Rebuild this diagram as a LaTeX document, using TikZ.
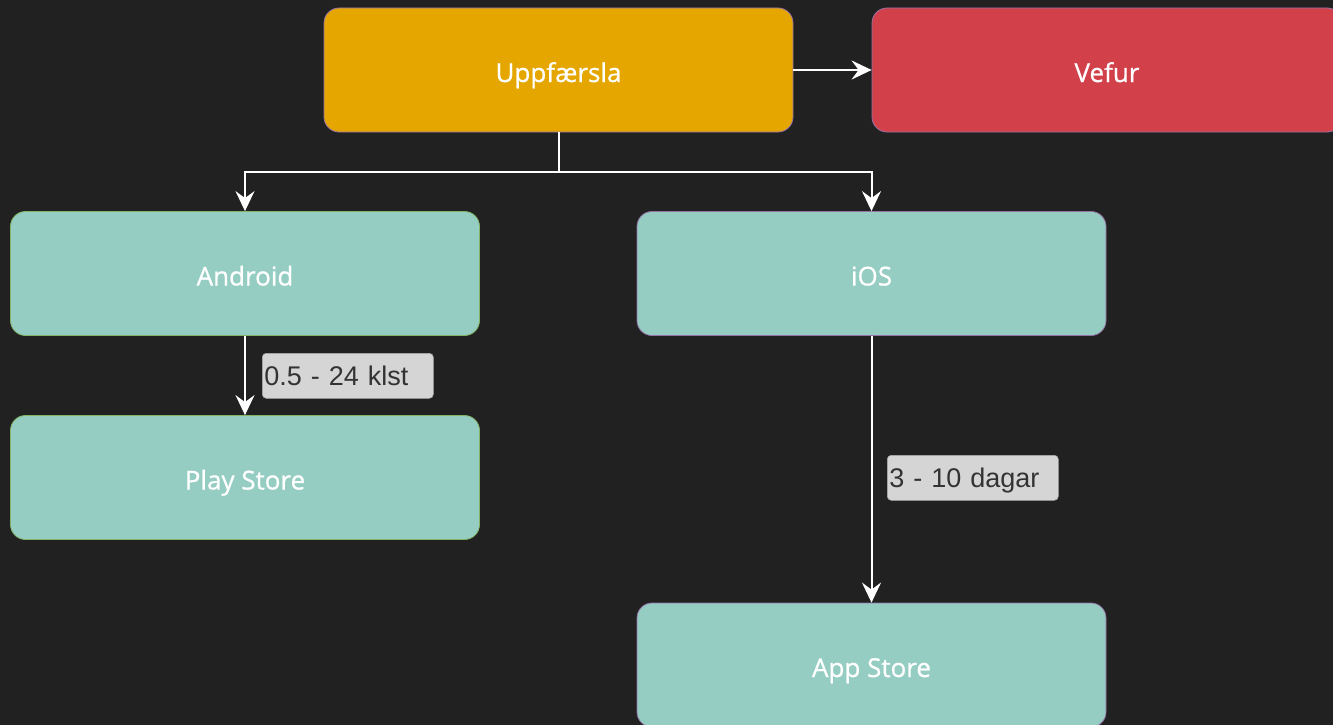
\documentclass[tikz,border=0pt]{standalone}
\usepackage{fontspec}
\setmainfont{Open Sans}
\newfontfamily\boxfont[FakeBold=0.8]{Open Sans}
\newfontfamily\lblfont{Liberation Sans}
\usetikzlibrary{arrows.meta}
\definecolor{bg}{HTML}{212121}
\definecolor{orng}{HTML}{E5A600}
\definecolor{redc}{HTML}{D2404A}
\definecolor{teal}{HTML}{95CDC3}
\definecolor{purp}{HTML}{9673A6}
\definecolor{grn}{HTML}{82B366}
\definecolor{lblfill}{HTML}{D5D5D5}
\definecolor{lbltext}{HTML}{333333}
\tikzset{
  box/.style={rectangle, rounded corners=15pt, minimum width=469pt, minimum height=124pt, inner sep=0pt, text=white, font=\boxfont\fontsize{26}{30}\selectfont, line width=0.8pt, text height=24pt, text depth=0pt},
  lbl/.style={rectangle, rounded corners=4pt, fill=lblfill, draw=lblfill!80!black, line width=0.6pt, text=lbltext, font=\lblfont\fontsize{27}{30}\selectfont, minimum height=45pt, inner sep=2pt, anchor=north west, text height=20pt, text depth=0pt},
  conn/.style={draw=white, line width=2pt, -{Stealth[length=20pt, width=19pt, inset=7pt]}},
}
\begin{document}
\begin{tikzpicture}[x=1pt, y=-1pt]
\fill[bg] (0,0) rectangle (1333,725);
\useasboundingbox (0,0) rectangle (1333,725);
\begin{scope}
\clip (0,0) rectangle (1333,725);
\node[box, fill=orng, draw=purp] (upp) at (558.5,70) {Uppfærsla};
\node[box, fill=redc, draw=purp, minimum width=470pt] (vef) at (1107,70) {Vefur};
\node[box, fill=teal, draw=grn] (and) at (245,273.5) {Android};
\node[box, fill=teal, draw=purp] (ios) at (871.5,273.5) {iOS};
\node[box, fill=teal, draw=grn] (play) at (245,477.5) {Play Store};
\node[box, fill=teal, draw=purp] (app) at (871.5,665) {App Store};
\end{scope}
\coordinate (split) at (558.5,172);
\draw[conn] (upp.east) -- (vef.west);
\draw[conn] (upp.south) -- (split) -| (and.north);
\draw[conn] (split) -| (ios.north);
\draw[conn] (and.south) -- (play.north);
\draw[conn] (ios.south) -- (app.north);
\node[lbl, minimum width=171pt, align=left, text width=167pt] (l1) at (262,353) {0.5 - 24 klst};
\node[lbl, minimum width=171pt, align=left, text width=167pt] (l2) at (887,455) {3 - 10 dagar};
\end{tikzpicture}
\end{document}
